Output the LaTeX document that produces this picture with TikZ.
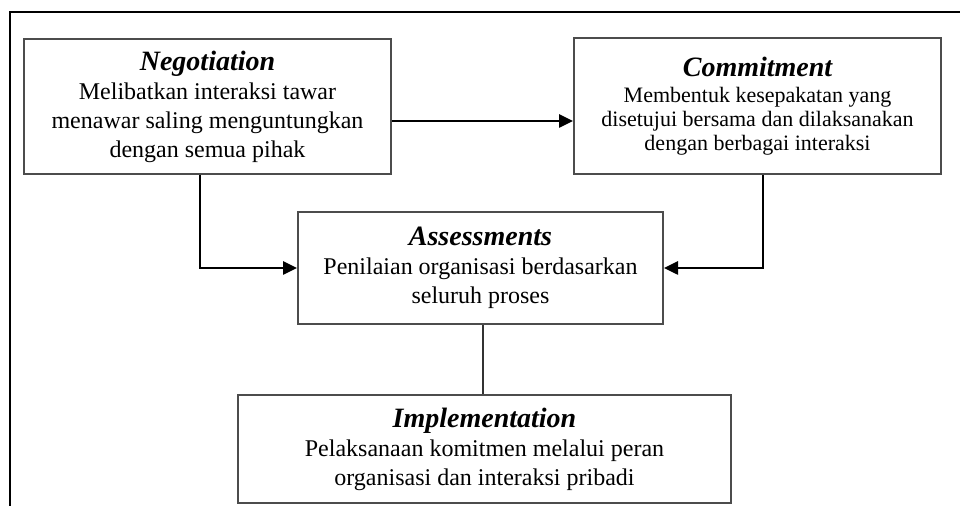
\documentclass[tikz,border=0pt]{standalone}
\usepackage{fontspec}
\setmainfont{Liberation Serif}
\usetikzlibrary{arrows.meta}

\tikzset{
  stagebox/.style = {draw=black!70, line width=1pt, align=center, inner sep=0pt},
  flow/.style     = {black, line width=1.3pt, -{Triangle[length=7pt, width=6.5pt]}},
  link/.style     = {black!80, line width=0.8pt},
}
\newcommand{\stagetitle}[1]{{\fontsize{14}{16}\selectfont\bfseries\itshape #1}}

\begin{document}
\begin{tikzpicture}[x=0.5pt, y=-0.5pt]
      \def\bodyfont{\fontsize{12}{14.5}\selectfont}
      \def\smallbody{\fontsize{11}{12}\selectfont}

      \useasboundingbox (0,0) rectangle (960,506);

      %frame
      \draw[black, line width=1pt] (10,506) -- (10,12) -- (960,12);

      %stages
      \node[stagebox, minimum width=183.5pt, minimum height=67.5pt, font=\bodyfont , name=neg] at (207.5,106.5)
        {\stagetitle{Negotiation}\\Melibatkan interaksi tawar\\menawar saling menguntungkan\\dengan semua pihak};
      \node[stagebox, minimum width=183.5pt, minimum height=68pt  , font=\smallbody, name=com] at (757.5,106)
        {\stagetitle{Commitment}\\[1pt]Membentuk kesepakatan yang\\disetujui bersama dan dilaksanakan\\dengan berbagai interaksi};
      \node[stagebox, minimum width=182.5pt, minimum height=56pt  , font=\bodyfont , name=ass] at (480.5,268)
        {\stagetitle{Assessments}\\Penilaian organisasi berdasarkan\\seluruh proses};
      \node[stagebox, minimum width=246.5pt, minimum height=54pt  , font=\bodyfont , name=imp] at (484.5,449)
        {\stagetitle{Implementation}\\Pelaksanaan komitmen melalui peran\\organisasi dan interaksi pribadi};

      %connectors
      \draw[flow] ([yshift=-7.25pt]neg.east) -- ([yshift=-7.25pt]neg.east -| com.west);
      \draw[flow] ([xshift=-3.75pt]neg.south) |- (ass.west);
      \draw[flow] ([xshift=2.75pt]com.south)  |- (ass.east);
      \draw[link] ([xshift=1.25pt]ass.south) -- ([xshift=1.25pt]ass.south |- imp.north);
\end{tikzpicture}
\end{document}
